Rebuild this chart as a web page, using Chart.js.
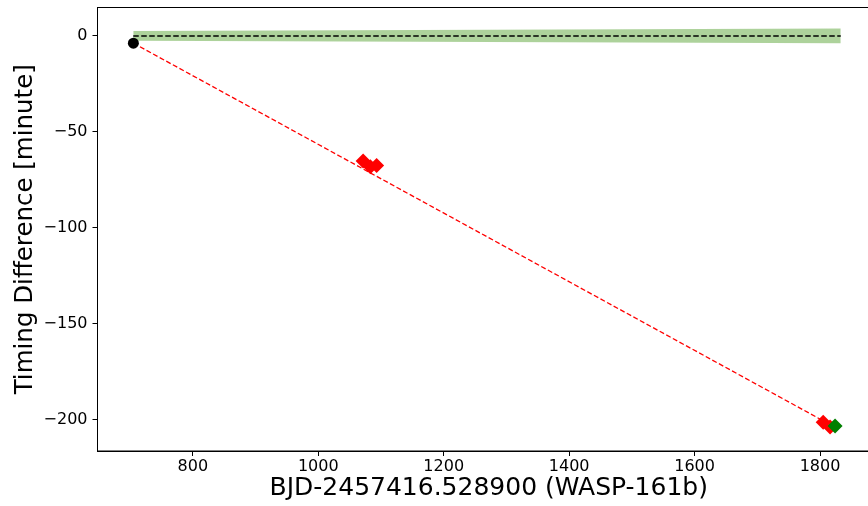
<!DOCTYPE html>
<html>
<head>
<meta charset="utf-8">
<script src="https://cdn.jsdelivr.net/npm/chart.js@4.4.1/dist/chart.umd.min.js"></script>
<style>
  html, body { margin: 0; padding: 0; background: #fff; overflow: hidden; }
  #wrap { width: 868px; height: 506px; overflow: hidden; }
</style>
</head>
<body>
<div id="wrap"><canvas id="ttv-chart" width="900" height="506"></canvas></div>
<script>
// Reference transit (black), observed transits (red), predicted (green)
const refX = [705.2];
const refY = [-3.8];
const obsX = [1071.5, 1083, 1093, 1805, 1816];
const obsY = [-65.3, -68.3, -67.6, -201.5, -204];
const predX = [1824];
const predY = [-203.5];

// linear fit through the transits
const fitX = [705.2, 1826];
const fitY = [-3.8, -204.5];

// ephemeris prediction (zero line) with its uncertainty band
const ephX = [705, 1833];
const ephY = [0, 0];
const bandUpper = [2.6, 3.9];
const bandLower = [-2.6, -3.9];

const xTicks = [800, 1000, 1200, 1400, 1600, 1800];
const yTicks = [-200, -150, -100, -50, 0];

const pts = (xs, ys) => xs.map((x, i) => ({ x: x, y: ys[i] }));
const font = "'DejaVu Sans', sans-serif";

// draw the frame (top line; right edge sits outside the window)
const framePlugin = {
  id: "frame",
  afterDraw(chart) {
    const { ctx, chartArea: a } = chart;
    ctx.save();
    ctx.strokeStyle = "#000";
    ctx.lineWidth = 1;
    ctx.strokeRect(a.left, a.top, a.right - a.left, a.bottom - a.top);
    ctx.restore();
  },
};

const ctx = document.getElementById("ttv-chart").getContext("2d");

new Chart(ctx, {
  type: "scatter",
  data: {
    datasets: [
      {
        data: pts(ephX, bandUpper),
        showLine: true,
        pointRadius: 0,
        borderWidth: 0,
        borderColor: "rgba(0,0,0,0)",
        backgroundColor: "rgba(110,175,80,0.57)",
        fill: "+1",
        order: 10,
      },
      {
        data: pts(ephX, bandLower),
        showLine: true,
        pointRadius: 0,
        borderWidth: 0,
        borderColor: "rgba(0,0,0,0)",
        fill: false,
        order: 10,
      },
      {
        data: pts(ephX, ephY),
        showLine: true,
        pointRadius: 0,
        borderColor: "#000",
        borderWidth: 1.5,
        borderDash: [5.5, 2.5],
        order: 9,
      },
      {
        data: pts(fitX, fitY),
        showLine: true,
        pointRadius: 0,
        borderColor: "#ff0000",
        borderWidth: 1.3,
        borderDash: [5, 2.5],
        order: 8,
      },
      {
        data: pts(refX, refY),
        pointStyle: "circle",
        pointRadius: 5.5,
        backgroundColor: "#000",
        borderWidth: 0,
        order: 3,
      },
      {
        data: pts(obsX, obsY),
        pointStyle: "rectRot",
        pointRadius: 7.5,
        backgroundColor: "#ff0000",
        borderWidth: 0,
        order: 2,
      },
      {
        data: pts(predX, predY),
        pointStyle: "rectRot",
        pointRadius: 7.5,
        backgroundColor: "#008000",
        borderWidth: 0,
        order: 1,
      },
    ],
  },
  options: {
    responsive: false,
    animation: false,
    events: [],
    layout: { padding: { top: 7, right: 20, left: 0, bottom: 0 } },
    plugins: {
      legend: { display: false },
      tooltip: { enabled: false },
    },
    scales: {
      x: {
        type: "linear",
        min: 648,
        max: 1895.6,
        afterBuildTicks: (axis) => {
          axis.ticks = xTicks.map((v) => ({ value: v }));
        },
        afterFit: (axis) => {
          axis.height = 55;
          axis.paddingLeft = 0;
          axis.paddingRight = 0;
        },
        grid: {
          drawOnChartArea: false,
          drawTicks: true,
          tickLength: 5,
          tickColor: "#000",
        },
        border: { display: true, color: "#000", width: 1 },
        ticks: {
          color: "#000",
          font: { family: font, size: 16 },
          padding: 1,
          maxRotation: 0,
          callback: (v) => String(v),
        },
        title: {
          display: true,
          text: "BJD-2457416.528900 (WASP-161b)",
          color: "#000",
          font: { family: font, size: 25 },
          padding: { top: 0, bottom: 3 },
        },
      },
      y: {
        type: "linear",
        min: -216.5,
        max: 14.8,
        afterBuildTicks: (axis) => {
          axis.ticks = yTicks.map((v) => ({ value: v }));
        },
        afterFit: (axis) => {
          axis.width = 97.5;
          axis.paddingTop = 0;
          axis.paddingBottom = 0;
        },
        grid: {
          drawOnChartArea: false,
          drawTicks: true,
          tickLength: 5,
          tickColor: "#000",
        },
        border: { display: true, color: "#000", width: 1 },
        ticks: {
          color: "#000",
          font: { family: font, size: 16 },
          padding: 5,
          callback: (v) => String(v).replace("-", "\u2212"),
        },
        title: {
          display: true,
          text: "Timing Difference [minute]",
          color: "#000",
          font: { family: font, size: 24.5 },
          padding: { top: 10.5, bottom: 0 },
        },
      },
    },
  },
  plugins: [framePlugin],
});
</script>
</body>
</html>
